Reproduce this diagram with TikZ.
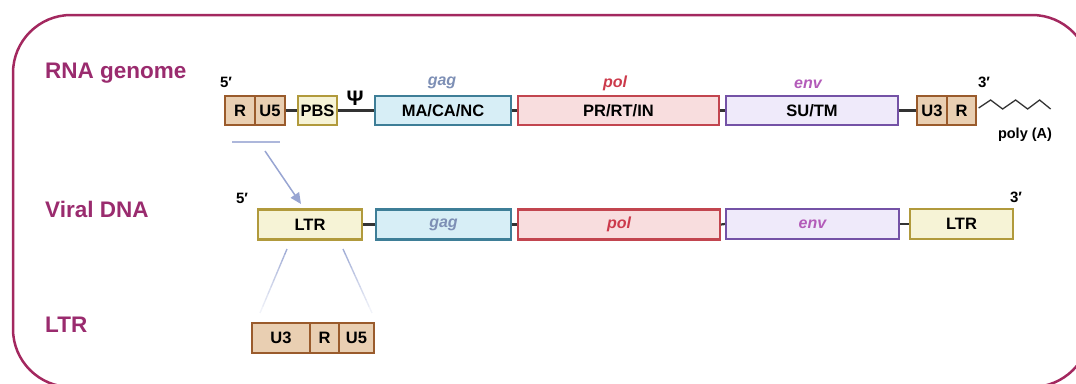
\documentclass[tikz,border=0pt]{standalone}
\usepackage{fontspec}
\setmainfont{Liberation Sans}
\usetikzlibrary{arrows.meta,calc}

\definecolor{framec}{HTML}{A3285F}
\definecolor{rowc}{HTML}{9A2B6E}
\definecolor{tanfill}{HTML}{E9CFB2}
\definecolor{tandraw}{HTML}{9A5B2C}
\definecolor{ltrfill}{HTML}{F6F3D6}
\definecolor{ltrdraw}{HTML}{B19A3C}
\definecolor{gagfill}{HTML}{D7EEF6}
\definecolor{gagdraw}{HTML}{3E7E97}
\definecolor{polfill}{HTML}{F8DDDE}
\definecolor{poldraw}{HTML}{C2454F}
\definecolor{envfill}{HTML}{EFEAFA}
\definecolor{envdraw}{HTML}{7452A6}
\definecolor{gagtext}{HTML}{7D8FB5}
\definecolor{poltext}{HTML}{CC3A4B}
\definecolor{envtext}{HTML}{B35BB9}
\definecolor{linkc}{HTML}{333333}
\definecolor{pointer}{HTML}{98A5D2}

\tikzset{
  seg/.style={draw, line width=2.2pt, rectangle, inner sep=0pt,
    minimum height=29pt, font=\bfseries\fontsize{16.5}{16.5}\selectfont},
  tanseg/.style={seg, fill=tanfill, draw=tandraw},
  ltrseg/.style={seg, fill=ltrfill, draw=ltrdraw},
  gagseg/.style={seg, fill=gagfill, draw=gagdraw},
  polseg/.style={seg, fill=polfill, draw=poldraw},
  envseg/.style={seg, fill=envfill, draw=envdraw},
  rowlabel/.style={anchor=base west, inner sep=0pt, text=rowc,
    font=\bfseries\fontsize{22.5}{22.5}\selectfont},
  endlabel/.style={inner sep=0pt, font=\bfseries\fontsize{15}{15}\selectfont},
  genelabel/.style={inner sep=0pt, font=\bfseries\itshape\fontsize{16}{16}\selectfont},
  geneinbox/.style={font=\bfseries\itshape\fontsize{16}{16}\selectfont},
  link/.style={draw=linkc, line width=2.2pt},
}

\begin{document}
\begin{tikzpicture}[x=1pt, y=-1pt]
\useasboundingbox (0,0) rectangle (1076,383);

% outer frame
\begin{scope}
\clip (0,0) rectangle (1076,383);
\draw[framec, line width=2.5pt, rounded corners=58pt] (13,15) rectangle (1090,387);
\end{scope}

% row titles
\node[rowlabel] (t1) at (45,78) {RNA genome};
\node[rowlabel] (t2) at (45,217) {Viral DNA};
\node[rowlabel] (t3) at (45,332) {LTR};

% ---- RNA genome ----
\node[tanseg, minimum width=30pt] (r1) at (240,110.5) {R};
\node[tanseg, minimum width=30pt] (u51) at (270,110.5) {U5};
\node[ltrseg, minimum width=39pt] (pbs) at (317.5,110.5) {PBS};
\node[gagseg, minimum width=136pt] (ma) at (443,110.5) {MA/CA/NC};
\node[polseg, minimum width=201pt] (pr) at (618.5,110.5) {PR/RT/IN};
\node[envseg, minimum width=172pt] (su) at (812,110.5) {SU/TM};
\node[tanseg, minimum width=30pt] (u31) at (932,110.5) {U3};
\node[tanseg, minimum width=29pt] (r2) at (961.5,110.5) {R};

\draw[link] (u51.east) -- (pbs.west);
\draw[link] (pbs.east) -- (ma.west);
\draw[link] (ma.east) -- (pr.west);
\draw[link] (pr.east) -- (su.west);
\draw[link] (su.east) -- (u31.west);

\node[endlabel] (p5a) at (226,82) {5′};
\node[endlabel] (p3a) at (984,82) {3′};
\node[inner sep=0pt, font=\bfseries\fontsize{21}{21}\selectfont] (psi) at (355,98) {Ψ};
\node[genelabel, text=gagtext] (gagl) at (442,83) {gag};
\node[genelabel, text=poltext] (poll) at (615,83) {pol};
\node[genelabel, text=envtext] (envl) at (808,84) {env};

% poly(A) tail
\draw[linkc, line width=1.3pt, line join=miter]
  (r2.east) ++(1.5,-2.5) -- ++(12,-8) -- ++(12,9) -- ++(13,-9) -- ++(12,9) -- ++(12,-9) -- ++(11,9);
\node[inner sep=0pt, font=\bfseries\fontsize{14.5}{14.5}\selectfont] (polya) at (1025,135) {poly (A)};

% ---- Viral DNA ----
\node[ltrseg, minimum width=104pt, minimum height=30pt] (ltr1) at (310,224.5) {LTR};
\node[gagseg, geneinbox, minimum width=135pt, minimum height=30pt, text=gagtext] (gag2) at (443.5,224.5) {gag};
\node[polseg, geneinbox, minimum width=202pt, minimum height=30pt, text=poltext] (pol2) at (619,224.5) {pol};
\node[envseg, geneinbox, minimum width=173pt, minimum height=30pt, text=envtext] (env2) at (812.5,224) {env};
\node[ltrseg, minimum width=103pt, minimum height=30pt] (ltr2) at (961.5,224) {LTR};

\draw[link] (ltr1.east) -- (gag2.west);
\draw[link] (gag2.east) -- (pol2.west);
\draw[link] (pol2.east) -- (env2.west);
\draw[link] (env2.east) -- (ltr2.west);

\node[endlabel] (p5b) at (242,198) {5′};
\node[endlabel] (p3b) at (1016,197) {3′};

% R-U5 region copied into the LTR
\coordinate (barl) at (232,142);
\coordinate (barr) at (280,142);
\draw[pointer!80, line width=2.5pt] (barl) -- (barr);
\coordinate (arrs) at (265,151);
\coordinate (arre) at (301,204);
\draw[pointer, line width=1.5pt, -{Triangle[length=11pt, width=10pt]}] (arrs) -- (arre);

% ---- LTR detail ----
\node[tanseg, minimum width=58pt, minimum height=30pt] (u33) at (281,338) {U3};
\node[tanseg, minimum width=29pt, minimum height=30pt] (r3) at (324.5,338) {R};
\node[tanseg, minimum width=35pt, minimum height=30pt] (u53) at (356.5,338) {U5};

% fading zoom lines from the LTR to its parts
\coordinate (fl1) at (287,249);
\coordinate (fl2) at (260,313);
\coordinate (fr1) at (343,249);
\coordinate (fr2) at (372,313);
\foreach \i in {0,...,9}{
  \pgfmathsetmacro{\op}{0.9-0.085*\i}
  \draw[pointer, line width=1.4pt, opacity=\op]
    ($(fl1)!\i/10!(fl2)$) -- ($(fl1)!{(\i+1)/10}!(fl2)$);
  \draw[pointer, line width=1.4pt, opacity=\op]
    ($(fr1)!\i/10!(fr2)$) -- ($(fr1)!{(\i+1)/10}!(fr2)$);
}
\end{tikzpicture}
\end{document}
